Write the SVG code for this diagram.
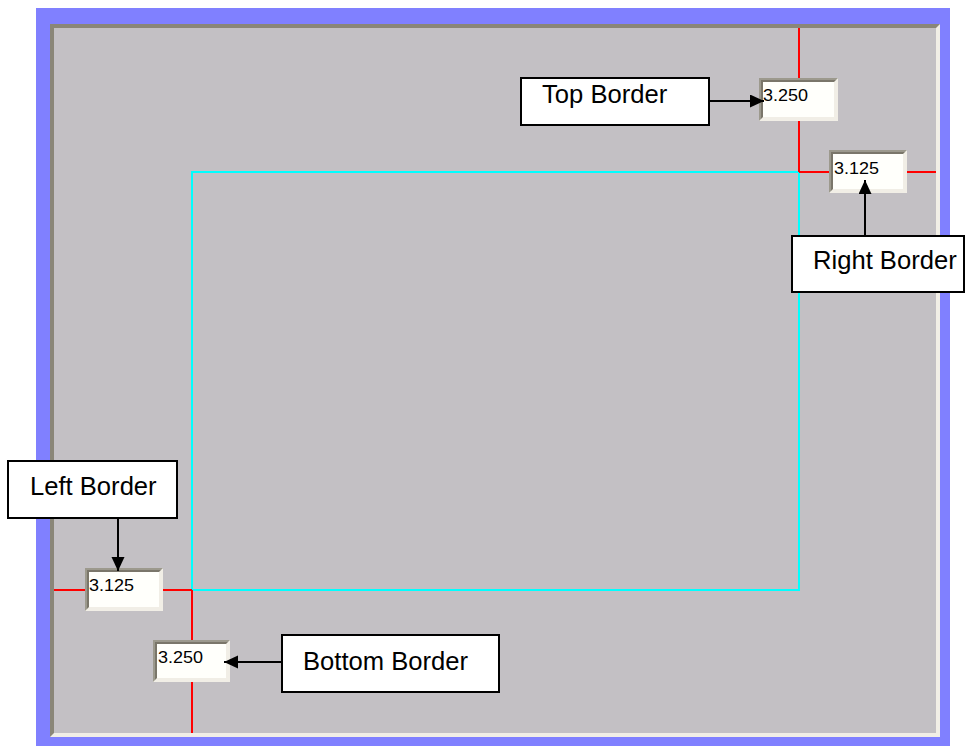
<svg xmlns="http://www.w3.org/2000/svg" width="966" height="746" viewBox="0 0 966 746">
  <style>
    .callout rect { fill: #ffffff; stroke: #000000; stroke-width: 2; }
    .callout text { font-family: "Liberation Sans", Arial, sans-serif; font-size: 25.6px; fill: #000000; }
    .field text { font-family: "Liberation Sans", Arial, sans-serif; font-size: 17px; fill: #000000; }
    .light { fill: #f1eee6; }
    .dark { fill: #9c998d; }
    .dark2 { fill: #7a766a; }
    .inner { fill: #fffffb; }
    .red { stroke: #ff0000; stroke-width: 2; fill: none; }
    .arrow { stroke: #000000; stroke-width: 2; fill: none; marker-end: url(#ah); }
  </style>
  <defs>
    <marker id="ah" markerUnits="userSpaceOnUse" markerWidth="15" markerHeight="14" refX="14" refY="6.5" orient="auto">
      <path d="M0,0 L14,6.5 L0,13 z" fill="#000000"/>
    </marker>
  </defs>
  <rect x="0" y="0" width="966" height="746" fill="#ffffff"/>
  <g id="frame">
    <rect x="36" y="8" width="914" height="738" fill="#8080ff"/>
    <rect x="50" y="24" width="890" height="713" fill="#f1eee6"/>
    <polygon points="50,24 940,24 936,28 54,28 54,733 50,737" fill="#8a8678"/>
    <rect x="54" y="28" width="882" height="705" fill="#c3c0c4"/>
  </g>
  <g id="margin-lines">
    <rect x="192" y="172" width="607" height="418" fill="none" stroke="#00ffff" stroke-width="2"/>
    <line class="red" x1="799" y1="28" x2="799" y2="172"/>
    <line class="red" x1="799" y1="172" x2="936" y2="172"/>
    <line class="red" x1="54" y1="590" x2="192" y2="590"/>
    <line class="red" x1="192" y1="590" x2="192" y2="733"/>
  </g>
  <g id="field-top" class="field">
    <rect class="light" x="759" y="78" width="79" height="43"/>
    <polygon class="dark" points="759,78 838,78 836,80 761,80 761,119 759,121"/>
    <polygon class="dark2" points="761,80 836,80 834,82 763,82 763,117 761,119"/>
    <rect class="inner" x="763" y="82" width="71" height="35"/>
    <text x="763" y="101" textLength="45" lengthAdjust="spacingAndGlyphs">3.250</text>
  </g>
  <g id="field-right" class="field">
    <rect class="light" x="829" y="150" width="78" height="43"/>
    <polygon class="dark" points="829,150 907,150 905,152 831,152 831,191 829,193"/>
    <polygon class="dark2" points="831,152 905,152 903,154 833,154 833,189 831,191"/>
    <rect class="inner" x="833" y="154" width="70" height="35"/>
    <text x="834" y="174" textLength="45" lengthAdjust="spacingAndGlyphs">3.125</text>
  </g>
  <g id="field-left" class="field">
    <rect class="light" x="85" y="568" width="78" height="43"/>
    <polygon class="dark" points="85,568 163,568 161,570 87,570 87,609 85,611"/>
    <polygon class="dark2" points="87,570 161,570 159,572 89,572 89,607 87,609"/>
    <rect class="inner" x="89" y="572" width="70" height="35"/>
    <text x="89" y="591" textLength="45" lengthAdjust="spacingAndGlyphs">3.125</text>
  </g>
  <g id="field-bottom" class="field">
    <rect class="light" x="153" y="640" width="77" height="42"/>
    <polygon class="dark" points="153,640 230,640 228,642 155,642 155,680 153,682"/>
    <polygon class="dark2" points="155,642 228,642 226,644 157,644 157,678 155,680"/>
    <rect class="inner" x="157" y="644" width="69" height="34"/>
    <text x="158" y="663" textLength="45" lengthAdjust="spacingAndGlyphs">3.250</text>
  </g>
  <g id="connectors">
    <line class="arrow" x1="709" y1="101" x2="764" y2="101"/>
    <line class="arrow" x1="865" y1="236" x2="865" y2="180"/>
    <line class="arrow" x1="118" y1="518" x2="118" y2="571"/>
    <line class="arrow" x1="282" y1="662" x2="224" y2="662"/>
  </g>
  <g id="callout-top" class="callout">
    <rect x="521" y="78" width="188" height="47"/>
    <text x="542" y="103">Top Border</text>
  </g>
  <g id="callout-right" class="callout">
    <rect x="792" y="236" width="172" height="56"/>
    <text x="813" y="269">Right Border</text>
  </g>
  <g id="callout-left" class="callout">
    <rect x="8" y="461" width="169" height="57"/>
    <text x="30" y="495">Left Border</text>
  </g>
  <g id="callout-bottom" class="callout">
    <rect x="282" y="635" width="217" height="57"/>
    <text x="303" y="670">Bottom Border</text>
  </g>
</svg>
